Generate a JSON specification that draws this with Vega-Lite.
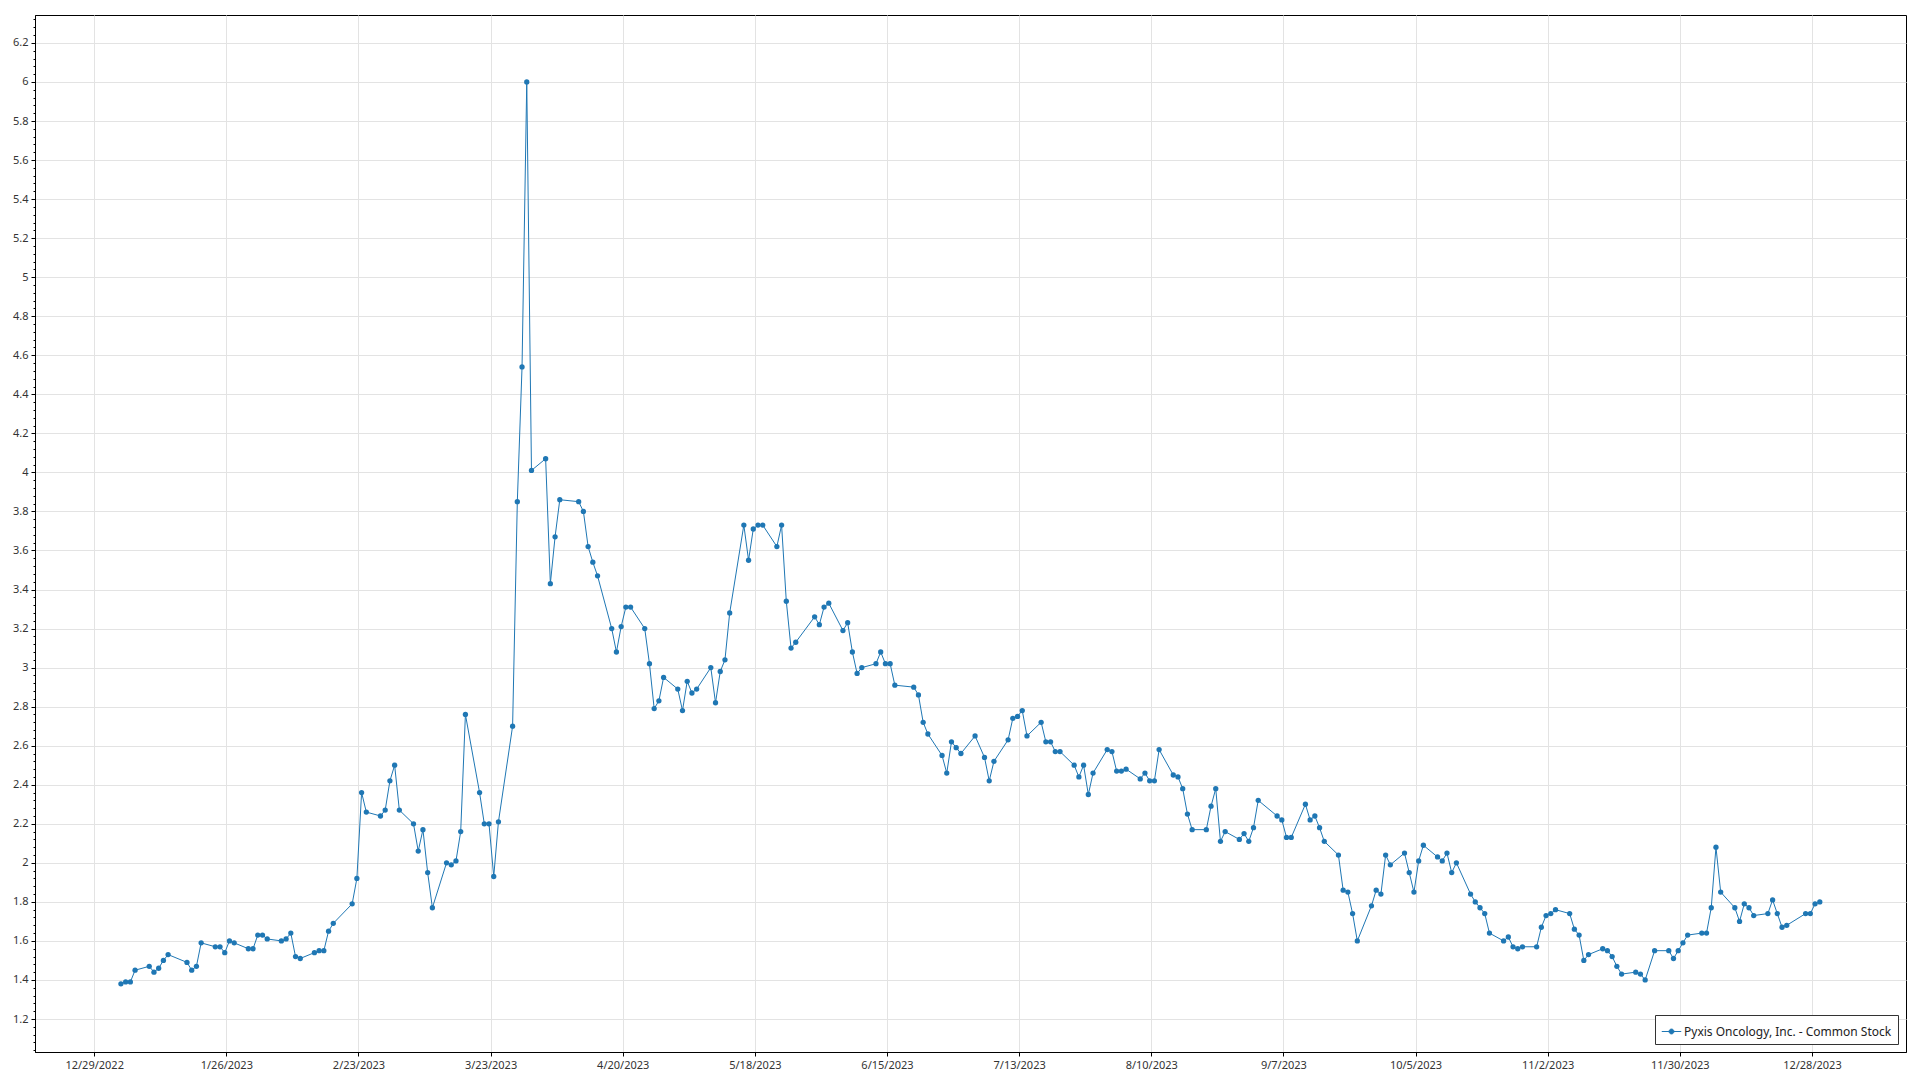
{
  "$schema": "https://vega.github.io/schema/vega-lite/v6.json",
  "width": 1871,
  "height": 1037,
  "autosize": {"type": "none"},
  "padding": {"left": 35, "top": 15, "right": 14, "bottom": 28},
  "background": "white",
  "config": {
    "font": "Segoe UI, Noto Sans, sans-serif",
    "view": {"stroke": "#000000", "strokeWidth": 1},
    "axis": {
      "domainColor": "#000000",
      "tickColor": "#000000",
      "gridColor": "#e3e3e3",
      "gridWidth": 1,
      "labelFont": "Segoe UI, Noto Sans, sans-serif",
      "labelFontSize": 11,
      "labelColor": "#333333",
      "title": null
    },
    "axisX": {
      "format": "%-m/%-d/%Y",
      "grid": true,
      "tickSize": 4,
      "labelPadding": 3,
      "labelFlush": false,
      "labelOverlap": false
    }
  },
  "data": {
    "values": [
      {"d": "2023-01-03T16:00:00Z", "v": 1.38}, {"d": "2023-01-04T16:00:00Z", "v": 1.39}, {"d": "2023-01-05T16:00:00Z", "v": 1.39}, {"d": "2023-01-06T16:00:00Z", "v": 1.45},
      {"d": "2023-01-09T16:00:00Z", "v": 1.47}, {"d": "2023-01-10T16:00:00Z", "v": 1.44}, {"d": "2023-01-11T16:00:00Z", "v": 1.46}, {"d": "2023-01-12T16:00:00Z", "v": 1.50}, {"d": "2023-01-13T16:00:00Z", "v": 1.53},
      {"d": "2023-01-17T16:00:00Z", "v": 1.49}, {"d": "2023-01-18T16:00:00Z", "v": 1.45}, {"d": "2023-01-19T16:00:00Z", "v": 1.47}, {"d": "2023-01-20T16:00:00Z", "v": 1.59},
      {"d": "2023-01-23T16:00:00Z", "v": 1.57}, {"d": "2023-01-24T16:00:00Z", "v": 1.57}, {"d": "2023-01-25T16:00:00Z", "v": 1.54}, {"d": "2023-01-26T16:00:00Z", "v": 1.60}, {"d": "2023-01-27T16:00:00Z", "v": 1.59},
      {"d": "2023-01-30T16:00:00Z", "v": 1.56}, {"d": "2023-01-31T16:00:00Z", "v": 1.56}, {"d": "2023-02-01T16:00:00Z", "v": 1.63}, {"d": "2023-02-02T16:00:00Z", "v": 1.63}, {"d": "2023-02-03T16:00:00Z", "v": 1.61},
      {"d": "2023-02-06T16:00:00Z", "v": 1.60}, {"d": "2023-02-07T16:00:00Z", "v": 1.61}, {"d": "2023-02-08T16:00:00Z", "v": 1.64}, {"d": "2023-02-09T16:00:00Z", "v": 1.52}, {"d": "2023-02-10T16:00:00Z", "v": 1.51},
      {"d": "2023-02-13T16:00:00Z", "v": 1.54}, {"d": "2023-02-14T16:00:00Z", "v": 1.55}, {"d": "2023-02-15T16:00:00Z", "v": 1.55}, {"d": "2023-02-16T16:00:00Z", "v": 1.65}, {"d": "2023-02-17T16:00:00Z", "v": 1.69},
      {"d": "2023-02-21T16:00:00Z", "v": 1.79}, {"d": "2023-02-22T16:00:00Z", "v": 1.92}, {"d": "2023-02-23T16:00:00Z", "v": 2.36}, {"d": "2023-02-24T16:00:00Z", "v": 2.26},
      {"d": "2023-02-27T16:00:00Z", "v": 2.24}, {"d": "2023-02-28T16:00:00Z", "v": 2.27}, {"d": "2023-03-01T16:00:00Z", "v": 2.42}, {"d": "2023-03-02T16:00:00Z", "v": 2.50}, {"d": "2023-03-03T16:00:00Z", "v": 2.27},
      {"d": "2023-03-06T16:00:00Z", "v": 2.20}, {"d": "2023-03-07T16:00:00Z", "v": 2.06}, {"d": "2023-03-08T16:00:00Z", "v": 2.17}, {"d": "2023-03-09T16:00:00Z", "v": 1.95}, {"d": "2023-03-10T16:00:00Z", "v": 1.77},
      {"d": "2023-03-13T16:00:00Z", "v": 2.00}, {"d": "2023-03-14T16:00:00Z", "v": 1.99}, {"d": "2023-03-15T16:00:00Z", "v": 2.01}, {"d": "2023-03-16T16:00:00Z", "v": 2.16}, {"d": "2023-03-17T16:00:00Z", "v": 2.76},
      {"d": "2023-03-20T16:00:00Z", "v": 2.36}, {"d": "2023-03-21T16:00:00Z", "v": 2.20}, {"d": "2023-03-22T16:00:00Z", "v": 2.20}, {"d": "2023-03-23T16:00:00Z", "v": 1.93}, {"d": "2023-03-24T16:00:00Z", "v": 2.21},
      {"d": "2023-03-27T16:00:00Z", "v": 2.70}, {"d": "2023-03-28T16:00:00Z", "v": 3.85}, {"d": "2023-03-29T16:00:00Z", "v": 4.54}, {"d": "2023-03-30T16:00:00Z", "v": 6.00}, {"d": "2023-03-31T16:00:00Z", "v": 4.01},
      {"d": "2023-04-03T16:00:00Z", "v": 4.07}, {"d": "2023-04-04T16:00:00Z", "v": 3.43}, {"d": "2023-04-05T16:00:00Z", "v": 3.67}, {"d": "2023-04-06T16:00:00Z", "v": 3.86},
      {"d": "2023-04-10T16:00:00Z", "v": 3.85}, {"d": "2023-04-11T16:00:00Z", "v": 3.80}, {"d": "2023-04-12T16:00:00Z", "v": 3.62}, {"d": "2023-04-13T16:00:00Z", "v": 3.54}, {"d": "2023-04-14T16:00:00Z", "v": 3.47},
      {"d": "2023-04-17T16:00:00Z", "v": 3.20}, {"d": "2023-04-18T16:00:00Z", "v": 3.08}, {"d": "2023-04-19T16:00:00Z", "v": 3.21}, {"d": "2023-04-20T16:00:00Z", "v": 3.31}, {"d": "2023-04-21T16:00:00Z", "v": 3.31},
      {"d": "2023-04-24T16:00:00Z", "v": 3.20}, {"d": "2023-04-25T16:00:00Z", "v": 3.02}, {"d": "2023-04-26T16:00:00Z", "v": 2.79}, {"d": "2023-04-27T16:00:00Z", "v": 2.83}, {"d": "2023-04-28T16:00:00Z", "v": 2.95},
      {"d": "2023-05-01T16:00:00Z", "v": 2.89}, {"d": "2023-05-02T16:00:00Z", "v": 2.78}, {"d": "2023-05-03T16:00:00Z", "v": 2.93}, {"d": "2023-05-04T16:00:00Z", "v": 2.87}, {"d": "2023-05-05T16:00:00Z", "v": 2.89},
      {"d": "2023-05-08T16:00:00Z", "v": 3.00}, {"d": "2023-05-09T16:00:00Z", "v": 2.82}, {"d": "2023-05-10T16:00:00Z", "v": 2.98}, {"d": "2023-05-11T16:00:00Z", "v": 3.04}, {"d": "2023-05-12T16:00:00Z", "v": 3.28},
      {"d": "2023-05-15T16:00:00Z", "v": 3.73}, {"d": "2023-05-16T16:00:00Z", "v": 3.55}, {"d": "2023-05-17T16:00:00Z", "v": 3.71}, {"d": "2023-05-18T16:00:00Z", "v": 3.73}, {"d": "2023-05-19T16:00:00Z", "v": 3.73},
      {"d": "2023-05-22T16:00:00Z", "v": 3.62}, {"d": "2023-05-23T16:00:00Z", "v": 3.73}, {"d": "2023-05-24T16:00:00Z", "v": 3.34}, {"d": "2023-05-25T16:00:00Z", "v": 3.10}, {"d": "2023-05-26T16:00:00Z", "v": 3.13},
      {"d": "2023-05-30T16:00:00Z", "v": 3.26}, {"d": "2023-05-31T16:00:00Z", "v": 3.22}, {"d": "2023-06-01T16:00:00Z", "v": 3.31}, {"d": "2023-06-02T16:00:00Z", "v": 3.33},
      {"d": "2023-06-05T16:00:00Z", "v": 3.19}, {"d": "2023-06-06T16:00:00Z", "v": 3.23}, {"d": "2023-06-07T16:00:00Z", "v": 3.08}, {"d": "2023-06-08T16:00:00Z", "v": 2.97}, {"d": "2023-06-09T16:00:00Z", "v": 3.00},
      {"d": "2023-06-12T16:00:00Z", "v": 3.02}, {"d": "2023-06-13T16:00:00Z", "v": 3.08}, {"d": "2023-06-14T16:00:00Z", "v": 3.02}, {"d": "2023-06-15T16:00:00Z", "v": 3.02}, {"d": "2023-06-16T16:00:00Z", "v": 2.91},
      {"d": "2023-06-20T16:00:00Z", "v": 2.90}, {"d": "2023-06-21T16:00:00Z", "v": 2.86}, {"d": "2023-06-22T16:00:00Z", "v": 2.72}, {"d": "2023-06-23T16:00:00Z", "v": 2.66},
      {"d": "2023-06-26T16:00:00Z", "v": 2.55}, {"d": "2023-06-27T16:00:00Z", "v": 2.46}, {"d": "2023-06-28T16:00:00Z", "v": 2.62}, {"d": "2023-06-29T16:00:00Z", "v": 2.59}, {"d": "2023-06-30T16:00:00Z", "v": 2.56},
      {"d": "2023-07-03T16:00:00Z", "v": 2.65}, {"d": "2023-07-05T16:00:00Z", "v": 2.54}, {"d": "2023-07-06T16:00:00Z", "v": 2.42}, {"d": "2023-07-07T16:00:00Z", "v": 2.52},
      {"d": "2023-07-10T16:00:00Z", "v": 2.63}, {"d": "2023-07-11T16:00:00Z", "v": 2.74}, {"d": "2023-07-12T16:00:00Z", "v": 2.75}, {"d": "2023-07-13T16:00:00Z", "v": 2.78}, {"d": "2023-07-14T16:00:00Z", "v": 2.65},
      {"d": "2023-07-17T16:00:00Z", "v": 2.72}, {"d": "2023-07-18T16:00:00Z", "v": 2.62}, {"d": "2023-07-19T16:00:00Z", "v": 2.62}, {"d": "2023-07-20T16:00:00Z", "v": 2.57}, {"d": "2023-07-21T16:00:00Z", "v": 2.57},
      {"d": "2023-07-24T16:00:00Z", "v": 2.50}, {"d": "2023-07-25T16:00:00Z", "v": 2.44}, {"d": "2023-07-26T16:00:00Z", "v": 2.50}, {"d": "2023-07-27T16:00:00Z", "v": 2.35}, {"d": "2023-07-28T16:00:00Z", "v": 2.46},
      {"d": "2023-07-31T16:00:00Z", "v": 2.58}, {"d": "2023-08-01T16:00:00Z", "v": 2.57}, {"d": "2023-08-02T16:00:00Z", "v": 2.47}, {"d": "2023-08-03T16:00:00Z", "v": 2.47}, {"d": "2023-08-04T16:00:00Z", "v": 2.48},
      {"d": "2023-08-07T16:00:00Z", "v": 2.43}, {"d": "2023-08-08T16:00:00Z", "v": 2.46}, {"d": "2023-08-09T16:00:00Z", "v": 2.42}, {"d": "2023-08-10T16:00:00Z", "v": 2.42}, {"d": "2023-08-11T16:00:00Z", "v": 2.58},
      {"d": "2023-08-14T16:00:00Z", "v": 2.45}, {"d": "2023-08-15T16:00:00Z", "v": 2.44}, {"d": "2023-08-16T16:00:00Z", "v": 2.38}, {"d": "2023-08-17T16:00:00Z", "v": 2.25}, {"d": "2023-08-18T16:00:00Z", "v": 2.17},
      {"d": "2023-08-21T16:00:00Z", "v": 2.17}, {"d": "2023-08-22T16:00:00Z", "v": 2.29}, {"d": "2023-08-23T16:00:00Z", "v": 2.38}, {"d": "2023-08-24T16:00:00Z", "v": 2.11}, {"d": "2023-08-25T16:00:00Z", "v": 2.16},
      {"d": "2023-08-28T16:00:00Z", "v": 2.12}, {"d": "2023-08-29T16:00:00Z", "v": 2.15}, {"d": "2023-08-30T16:00:00Z", "v": 2.11}, {"d": "2023-08-31T16:00:00Z", "v": 2.18}, {"d": "2023-09-01T16:00:00Z", "v": 2.32},
      {"d": "2023-09-05T16:00:00Z", "v": 2.24}, {"d": "2023-09-06T16:00:00Z", "v": 2.22}, {"d": "2023-09-07T16:00:00Z", "v": 2.13}, {"d": "2023-09-08T16:00:00Z", "v": 2.13},
      {"d": "2023-09-11T16:00:00Z", "v": 2.30}, {"d": "2023-09-12T16:00:00Z", "v": 2.22}, {"d": "2023-09-13T16:00:00Z", "v": 2.24}, {"d": "2023-09-14T16:00:00Z", "v": 2.18}, {"d": "2023-09-15T16:00:00Z", "v": 2.11},
      {"d": "2023-09-18T16:00:00Z", "v": 2.04}, {"d": "2023-09-19T16:00:00Z", "v": 1.86}, {"d": "2023-09-20T16:00:00Z", "v": 1.85}, {"d": "2023-09-21T16:00:00Z", "v": 1.74}, {"d": "2023-09-22T16:00:00Z", "v": 1.60},
      {"d": "2023-09-25T16:00:00Z", "v": 1.78}, {"d": "2023-09-26T16:00:00Z", "v": 1.86}, {"d": "2023-09-27T16:00:00Z", "v": 1.84}, {"d": "2023-09-28T16:00:00Z", "v": 2.04}, {"d": "2023-09-29T16:00:00Z", "v": 1.99},
      {"d": "2023-10-02T16:00:00Z", "v": 2.05}, {"d": "2023-10-03T16:00:00Z", "v": 1.95}, {"d": "2023-10-04T16:00:00Z", "v": 1.85}, {"d": "2023-10-05T16:00:00Z", "v": 2.01}, {"d": "2023-10-06T16:00:00Z", "v": 2.09},
      {"d": "2023-10-09T16:00:00Z", "v": 2.03}, {"d": "2023-10-10T16:00:00Z", "v": 2.01}, {"d": "2023-10-11T16:00:00Z", "v": 2.05}, {"d": "2023-10-12T16:00:00Z", "v": 1.95}, {"d": "2023-10-13T16:00:00Z", "v": 2.00},
      {"d": "2023-10-16T16:00:00Z", "v": 1.84}, {"d": "2023-10-17T16:00:00Z", "v": 1.80}, {"d": "2023-10-18T16:00:00Z", "v": 1.77}, {"d": "2023-10-19T16:00:00Z", "v": 1.74}, {"d": "2023-10-20T16:00:00Z", "v": 1.64},
      {"d": "2023-10-23T16:00:00Z", "v": 1.60}, {"d": "2023-10-24T16:00:00Z", "v": 1.62}, {"d": "2023-10-25T16:00:00Z", "v": 1.57}, {"d": "2023-10-26T16:00:00Z", "v": 1.56}, {"d": "2023-10-27T16:00:00Z", "v": 1.57},
      {"d": "2023-10-30T16:00:00Z", "v": 1.57}, {"d": "2023-10-31T16:00:00Z", "v": 1.67}, {"d": "2023-11-01T16:00:00Z", "v": 1.73}, {"d": "2023-11-02T16:00:00Z", "v": 1.74}, {"d": "2023-11-03T16:00:00Z", "v": 1.76},
      {"d": "2023-11-06T16:00:00Z", "v": 1.74}, {"d": "2023-11-07T16:00:00Z", "v": 1.66}, {"d": "2023-11-08T16:00:00Z", "v": 1.63}, {"d": "2023-11-09T16:00:00Z", "v": 1.50}, {"d": "2023-11-10T16:00:00Z", "v": 1.53},
      {"d": "2023-11-13T16:00:00Z", "v": 1.56}, {"d": "2023-11-14T16:00:00Z", "v": 1.55}, {"d": "2023-11-15T16:00:00Z", "v": 1.52}, {"d": "2023-11-16T16:00:00Z", "v": 1.47}, {"d": "2023-11-17T16:00:00Z", "v": 1.43},
      {"d": "2023-11-20T16:00:00Z", "v": 1.44}, {"d": "2023-11-21T16:00:00Z", "v": 1.43}, {"d": "2023-11-22T16:00:00Z", "v": 1.40}, {"d": "2023-11-24T16:00:00Z", "v": 1.55},
      {"d": "2023-11-27T16:00:00Z", "v": 1.55}, {"d": "2023-11-28T16:00:00Z", "v": 1.51}, {"d": "2023-11-29T16:00:00Z", "v": 1.55}, {"d": "2023-11-30T16:00:00Z", "v": 1.59}, {"d": "2023-12-01T16:00:00Z", "v": 1.63},
      {"d": "2023-12-04T16:00:00Z", "v": 1.64}, {"d": "2023-12-05T16:00:00Z", "v": 1.64}, {"d": "2023-12-06T16:00:00Z", "v": 1.77}, {"d": "2023-12-07T16:00:00Z", "v": 2.08}, {"d": "2023-12-08T16:00:00Z", "v": 1.85},
      {"d": "2023-12-11T16:00:00Z", "v": 1.77}, {"d": "2023-12-12T16:00:00Z", "v": 1.70}, {"d": "2023-12-13T16:00:00Z", "v": 1.79}, {"d": "2023-12-14T16:00:00Z", "v": 1.77}, {"d": "2023-12-15T16:00:00Z", "v": 1.73},
      {"d": "2023-12-18T16:00:00Z", "v": 1.74}, {"d": "2023-12-19T16:00:00Z", "v": 1.81}, {"d": "2023-12-20T16:00:00Z", "v": 1.74}, {"d": "2023-12-21T16:00:00Z", "v": 1.67}, {"d": "2023-12-22T16:00:00Z", "v": 1.68},
      {"d": "2023-12-26T16:00:00Z", "v": 1.74}, {"d": "2023-12-27T16:00:00Z", "v": 1.74}, {"d": "2023-12-28T16:00:00Z", "v": 1.79}, {"d": "2023-12-29T16:00:00Z", "v": 1.80}
    ]
  },
  "resolve": {"axis": {"y": "independent"}},
  "layer": [
    {
      "mark": {"type": "point", "opacity": 0},
      "encoding": {
        "x": {"field": "d", "type": "temporal",
          "scale": {"type": "utc", "domain": [{"year": 2022, "month": 12, "date": 16, "hours": 11, "utc": true}, {"year": 2024, "month": 1, "date": 16, "hours": 22, "minutes": 30, "utc": true}]},
          "axis": {
            "values": [
              {"year": 2022, "month": 12, "date": 29, "utc": true}, {"year": 2023, "month": 1, "date": 26, "utc": true},
              {"year": 2023, "month": 2, "date": 23, "utc": true}, {"year": 2023, "month": 3, "date": 23, "utc": true},
              {"year": 2023, "month": 4, "date": 20, "utc": true}, {"year": 2023, "month": 5, "date": 18, "utc": true},
              {"year": 2023, "month": 6, "date": 15, "utc": true}, {"year": 2023, "month": 7, "date": 13, "utc": true},
              {"year": 2023, "month": 8, "date": 10, "utc": true}, {"year": 2023, "month": 9, "date": 7, "utc": true},
              {"year": 2023, "month": 10, "date": 5, "utc": true}, {"year": 2023, "month": 11, "date": 2, "utc": true},
              {"year": 2023, "month": 11, "date": 30, "utc": true}, {"year": 2023, "month": 12, "date": 28, "utc": true}
            ],
            "format": "%-m/%-d/%Y"
          }
        },
        "y": {"field": "v", "type": "quantitative",
          "scale": {"domain": [1.031, 6.343], "nice": false, "zero": false},
          "axis": {
            "orient": "left",
            "grid": false,
            "labels": false,
            "domain": false,
            "tickSize": 2,
            "values": [1.04,1.08,1.12,1.16,1.2,1.24,1.28,1.32,1.36,1.4,1.44,1.48,1.52,1.56,1.6,1.64,1.68,1.72,1.76,1.8,1.84,1.88,1.92,1.96,2,2.04,2.08,2.12,2.16,2.2,2.24,2.28,2.32,2.36,2.4,2.44,2.48,2.52,2.56,2.6,2.64,2.68,2.72,2.76,2.8,2.84,2.88,2.92,2.96,3,3.04,3.08,3.12,3.16,3.2,3.24,3.28,3.32,3.36,3.4,3.44,3.48,3.52,3.56,3.6,3.64,3.68,3.72,3.76,3.8,3.84,3.88,3.92,3.96,4,4.04,4.08,4.12,4.16,4.2,4.24,4.28,4.32,4.36,4.4,4.44,4.48,4.52,4.56,4.6,4.64,4.68,4.72,4.76,4.8,4.84,4.88,4.92,4.96,5,5.04,5.08,5.12,5.16,5.2,5.24,5.28,5.32,5.36,5.4,5.44,5.48,5.52,5.56,5.6,5.64,5.68,5.72,5.76,5.8,5.84,5.88,5.92,5.96,6,6.04,6.08,6.12,6.16,6.2,6.24,6.28,6.32]
          }
        }
      }
    },
    {
      "mark": {"type": "line", "strokeWidth": 1, "point": {"filled": true, "size": 28, "opacity": 1}},
      "encoding": {
        "x": {"field": "d", "type": "temporal",
          "axis": {
            "values": [
              {"year": 2022, "month": 12, "date": 29, "utc": true}, {"year": 2023, "month": 1, "date": 26, "utc": true},
              {"year": 2023, "month": 2, "date": 23, "utc": true}, {"year": 2023, "month": 3, "date": 23, "utc": true},
              {"year": 2023, "month": 4, "date": 20, "utc": true}, {"year": 2023, "month": 5, "date": 18, "utc": true},
              {"year": 2023, "month": 6, "date": 15, "utc": true}, {"year": 2023, "month": 7, "date": 13, "utc": true},
              {"year": 2023, "month": 8, "date": 10, "utc": true}, {"year": 2023, "month": 9, "date": 7, "utc": true},
              {"year": 2023, "month": 10, "date": 5, "utc": true}, {"year": 2023, "month": 11, "date": 2, "utc": true},
              {"year": 2023, "month": 11, "date": 30, "utc": true}, {"year": 2023, "month": 12, "date": 28, "utc": true}
            ],
            "format": "%-m/%-d/%Y"
          }
        },
        "y": {"field": "v", "type": "quantitative",
          "axis": {
            "orient": "left",
            "values": [1.2,1.4,1.6,1.8,2,2.2,2.4,2.6,2.8,3,3.2,3.4,3.6,3.8,4,4.2,4.4,4.6,4.8,5,5.2,5.4,5.6,5.8,6,6.2],
            "format": ".1~f",
            "grid": true,
            "tickSize": 4,
            "labelPadding": 3
          }
        },
        "color": {
          "datum": "Pyxis Oncology, Inc. - Common Stock",
          "type": "nominal",
          "scale": {"range": ["#1f77b4"]},
          "legend": {
            "title": null,
            "orient": "none",
            "legendX": 1620,
            "legendY": 1000,
            "padding": 6,
            "strokeColor": "#333333",
            "fillColor": "#ffffff",
            "labelFontSize": 12,
            "labelLimit": 0,
            "labelOffset": 2,
            "labelColor": "#222222",
            "labelFont": "Segoe UI, Noto Sans, sans-serif",
            "symbolType": "M-1,0L1,0M-0.25,0A0.25,0.25 0 1,0 0.25,0A0.25,0.25 0 1,0 -0.25,0",
            "symbolSize": 380,
            "symbolStrokeWidth": 1,
            "symbolStrokeColor": "#1f77b4",
            "symbolFillColor": "#1f77b4"
          }
        }
      }
    }
  ]
}
